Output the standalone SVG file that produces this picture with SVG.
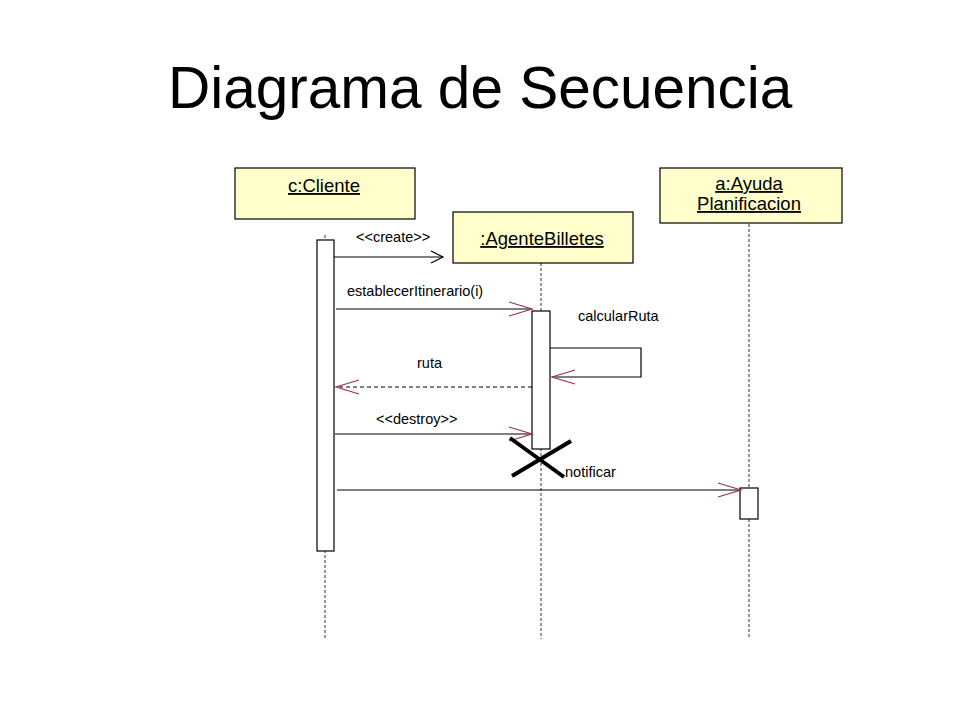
<svg xmlns="http://www.w3.org/2000/svg" width="960" height="720" viewBox="0 0 960 720">
  <style>
    .title { font-family: "Liberation Sans", Arial, sans-serif; font-size: 58.5px; fill: #000; }
    .hdr { font-family: "Liberation Sans", Arial, sans-serif; font-size: 18.5px; fill: #000; text-decoration: underline; text-anchor: middle; }
    .lbl { font-family: "Liberation Sans", Arial, sans-serif; font-size: 14.5px; fill: #000; }
    .box { fill: #FFFFCC; stroke: #000; stroke-width: 1.2; }
    .act { fill: #FFFFFF; stroke: #000; stroke-width: 1.2; }
    .life { stroke: #333; stroke-width: 1; stroke-dasharray: 3 2; fill: none; }
    .msg { stroke: #000; stroke-width: 1.2; fill: none; }
    .ret { stroke: #000; stroke-width: 1; stroke-dasharray: 4 3; fill: none; }
    .kill { stroke: #000; stroke-width: 4; }
  </style>
  <defs>
    <marker id="openRed" markerUnits="userSpaceOnUse" viewBox="-25 -9 27 18" refX="0" refY="0" markerWidth="27" markerHeight="18" orient="auto" overflow="visible">
      <path d="M-23,-7 L0,0 L-23,7" fill="none" stroke="#993355" stroke-width="1.2"/>
    </marker>
    <marker id="openBlack" markerUnits="userSpaceOnUse" viewBox="-14 -8 16 16" refX="0" refY="0" markerWidth="16" markerHeight="16" orient="auto" overflow="visible">
      <path d="M-12,-6 L0,0 L-12,6" fill="none" stroke="#000" stroke-width="1.2"/>
    </marker>
  </defs>

  <rect width="960" height="720" fill="#FFFFFF"/>
  <text class="title" x="168" y="108">Diagrama de Secuencia</text>

  <g id="lifelines">
    <line class="life" x1="325" y1="235" x2="325" y2="639"/>
    <line class="life" x1="541" y1="263" x2="541" y2="639"/>
    <line class="life" x1="749" y1="224" x2="749" y2="639"/>
  </g>

  <g id="node-cliente">
    <rect class="box" x="235" y="168" width="180" height="51"/>
    <text class="hdr" x="324" y="192">c:Cliente</text>
    <rect class="act" x="317" y="240" width="17" height="311"/>
  </g>

  <g id="node-agente">
    <rect class="box" x="453" y="212" width="180" height="51"/>
    <text class="hdr" x="542" y="245">:AgenteBilletes</text>
    <rect class="act" x="532" y="311" width="18" height="138"/>
  </g>

  <g id="node-ayuda">
    <rect class="box" x="660" y="168" width="182" height="55"/>
    <text class="hdr" x="749" y="190">a:Ayuda</text>
    <text class="hdr" x="749" y="210">Planificacion</text>
    <rect class="act" x="740" y="488" width="18" height="31"/>
  </g>

  <g id="connectors">
    <line class="msg" x1="334" y1="257" x2="443" y2="257" marker-end="url(#openBlack)"/>
    <text class="lbl" x="356" y="242">&lt;&lt;create&gt;&gt;</text>

    <line class="msg" x1="336" y1="309" x2="532" y2="309" marker-end="url(#openRed)"/>
    <text class="lbl" x="347" y="296">establecerItinerario(i)</text>

    <path class="msg" d="M550,348 H641 V377 H552" marker-end="url(#openRed)"/>
    <text class="lbl" x="578" y="321">calcularRuta</text>

    <line class="ret" x1="532" y1="387" x2="336" y2="387" marker-end="url(#openRed)"/>
    <text class="lbl" x="417" y="368">ruta</text>

    <line class="msg" x1="335" y1="434" x2="532" y2="434" marker-end="url(#openRed)"/>
    <text class="lbl" x="376" y="424">&lt;&lt;destroy&gt;&gt;</text>

    <line class="msg" x1="337" y1="490" x2="741" y2="490" marker-end="url(#openRed)"/>
    <text class="lbl" x="565" y="477">notificar</text>
  </g>

  <g id="destroy-mark">
    <line class="kill" x1="510" y1="438" x2="564" y2="477"/>
    <line class="kill" x1="571" y1="441" x2="512" y2="476"/>
  </g>
</svg>
